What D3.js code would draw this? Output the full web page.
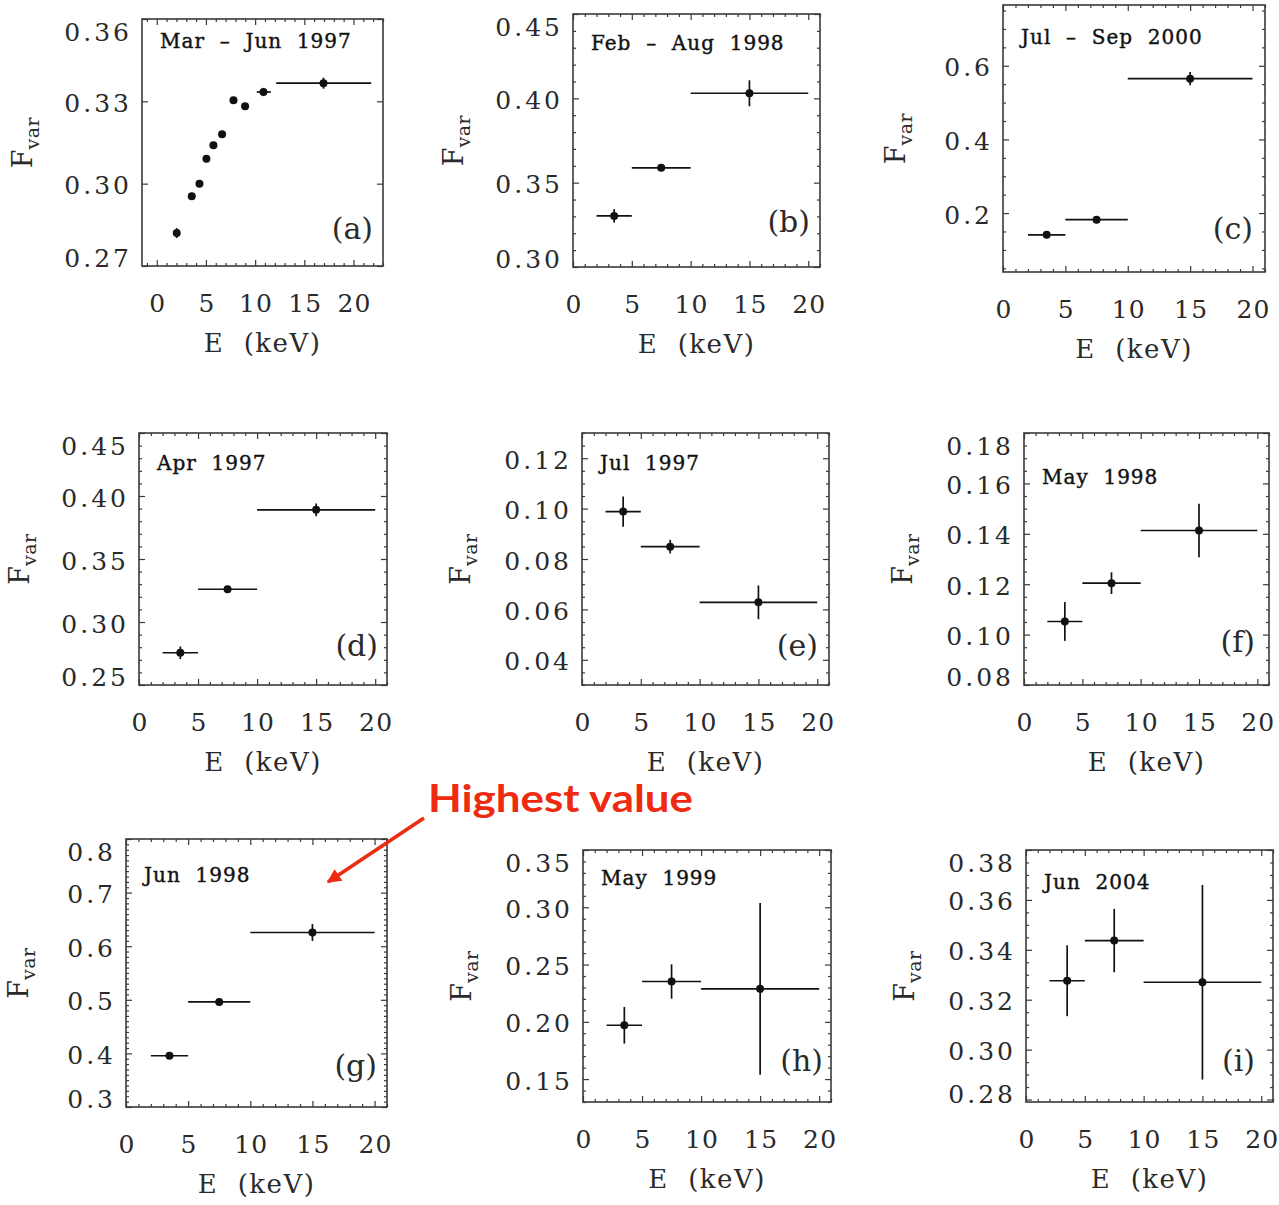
<!DOCTYPE html>
<html><head><meta charset="utf-8">
<script src="https://cdn.jsdelivr.net/npm/d3@7"></script>
<style>html,body{margin:0;padding:0;background:#fff;} svg{display:block;}</style>
</head><body>
<svg id="chart" width="1279" height="1205"></svg>
<script>
// ---------------- DATA ----------------
const panelLetters = ["(a)","(b)","(c)","(d)","(e)","(f)","(g)","(h)","(i)"];
const panelTitles = ["Mar  –  Jun  1997","Feb  –  Aug  1998","Jul  –  Sep  2000",
                     "Apr  1997","Jul  1997","May  1998",
                     "Jun  1998","May  1999","Jun  2004"];
const xTickValues = [0, 5, 10, 15, 20];

// panel (a): fine energy bins
const energyA   = [2.03, 3.56, 4.34, 5.05, 5.76, 6.64, 7.80, 8.98, 10.85, 16.95];
const energyLoA = [1.73, 3.26, 4.04, 4.75, 5.46, 6.34, 7.50, 8.68, 10.17, 12.14];
const energyHiA = [2.33, 3.86, 4.64, 5.35, 6.06, 6.94, 8.10, 9.28, 11.60, 21.80];
const fvarA     = [0.2820, 0.2954, 0.3000, 0.3091, 0.3140, 0.3180, 0.3304, 0.3282, 0.3334, 0.3366];
const errA      = [0.0018, 0.0012, 0.0012, 0.0012, 0.0012, 0.0012, 0.0012, 0.0012, 0.0015, 0.0020];

// panels (b)-(i): three broad bins
const binE  = [3.5, 7.5, 15];
const binLo = [2, 5, 10];
const binHi = [5, 10, 20];
const fvarB = [0.3303, 0.3588, 0.4030]; const errB = [0.0040, 0.0015, 0.0077];
const fvarC = [0.141, 0.182, 0.565];    const errC = [0.004, 0.005, 0.018];
const fvarD = [0.2756, 0.3260, 0.3890]; const errD = [0.005, 0.002, 0.005];
const fvarE = [0.0988, 0.0849, 0.0628]; const errE = [0.0060, 0.0027, 0.0067];
const fvarF = [0.1052, 0.1204, 0.1413]; const errF = [0.0077, 0.0043, 0.0106];
const fvarG = [0.3956, 0.4960, 0.6256]; const errG = [0.004, 0.004, 0.016];
const fvarH = [0.1970, 0.2352, 0.2288]; const errH = [0.016, 0.015, 0.075];
const fvarI = [0.3276, 0.3437, 0.3270]; const errI = [0.0142, 0.0127, 0.0390];

// y ranges and tick labels
const yDomA = [0.27, 0.36];  const yTicksA = [0.27, 0.30, 0.33, 0.36];
const yDomB = [0.30, 0.45];  const yTicksB = [0.30, 0.35, 0.40, 0.45];
const yDomC = [0.04, 0.765]; const yTicksC = [0.2, 0.4, 0.6];
const yDomD = [0.25, 0.45];  const yTicksD = [0.25, 0.30, 0.35, 0.40, 0.45];
const yDomE = [0.03, 0.13];  const yTicksE = [0.04, 0.06, 0.08, 0.10, 0.12];
const yDomF = [0.08, 0.18];  const yTicksF = [0.08, 0.10, 0.12, 0.14, 0.16, 0.18];
const yDomG = [0.3, 0.8];    const yTicksG = [0.3, 0.4, 0.5, 0.6, 0.7, 0.8];
const yDomH = [0.13, 0.35];  const yTicksH = [0.15, 0.20, 0.25, 0.30, 0.35];
const yDomI = [0.279, 0.38]; const yTicksI = [0.28, 0.30, 0.32, 0.34, 0.36, 0.38];
const yMinorSteps = [null, 0.01, 0.05, 0.01, 0.005, 0.005, 0.01, 0.01, 0.005];
const yDecimals = [2, 2, 1, 2, 2, 2, 1, 2, 2];

const annotationText = "Highest value";

// ---------------- LAYOUT ----------------
const frames = [
  {l:142, r:383,  t:19,  b:266,  xDom:[-1.5,23], tdy:29, ldx:10, ldy:27, yt:110},
  {l:573, r:820,  t:14,  b:267,  xDom:[0,21],    tdy:36, ldx:10, ldy:35, yt:110},
  {l:1003,r:1265, t:5,   b:272,  xDom:[0,21],    tdy:39, ldx:12, ldy:33, yt:98},
  {l:139, r:387,  t:433, b:685,  xDom:[0,21],    tdy:37, ldx:9,  ldy:29, yt:110},
  {l:582, r:829,  t:433, b:685,  xDom:[0,21],    tdy:37, ldx:11, ldy:29, yt:112},
  {l:1024,r:1269, t:433, b:685,  xDom:[0,21],    tdy:51, ldx:14, ldy:33, yt:112},
  {l:126, r:387,  t:839, b:1107, xDom:[0,21],    tdy:43, ldx:10, ldy:31, yt:98},
  {l:583, r:831,  t:850, b:1102, xDom:[0,21],    tdy:35, ldx:8,  ldy:31, yt:112},
  {l:1026,r:1273, t:850, b:1102, xDom:[0,21],    tdy:39, ldx:18, ldy:31, yt:112}
];

const panels = [
  {E:energyA, lo:energyLoA, hi:energyHiA, F:fvarA, err:errA, yDom:yDomA, yTicks:yTicksA},
  {E:binE, lo:binLo, hi:binHi, F:fvarB, err:errB, yDom:yDomB, yTicks:yTicksB},
  {E:binE, lo:binLo, hi:binHi, F:fvarC, err:errC, yDom:yDomC, yTicks:yTicksC},
  {E:binE, lo:binLo, hi:binHi, F:fvarD, err:errD, yDom:yDomD, yTicks:yTicksD},
  {E:binE, lo:binLo, hi:binHi, F:fvarE, err:errE, yDom:yDomE, yTicks:yTicksE},
  {E:binE, lo:binLo, hi:binHi, F:fvarF, err:errF, yDom:yDomF, yTicks:yTicksF},
  {E:binE, lo:binLo, hi:binHi, F:fvarG, err:errG, yDom:yDomG, yTicks:yTicksG},
  {E:binE, lo:binLo, hi:binHi, F:fvarH, err:errH, yDom:yDomH, yTicks:yTicksH},
  {E:binE, lo:binLo, hi:binHi, F:fvarI, err:errI, yDom:yDomI, yTicks:yTicksI}
];

// ---------------- DRAW ----------------
const svg = d3.select("#chart");
const SERIF = "'DejaVu Serif', 'Liberation Serif', serif";
const AX = "#3a3a3a";
const INK = "#111";

function clean(sel) {
  sel.select(".domain").remove();
  sel.selectAll(".tick line").attr("stroke", AX).attr("stroke-width", 1.2);
}
function stepValues(dom, step) {
  const n0 = Math.ceil(dom[0] / step - 1e-6), n1 = Math.floor(dom[1] / step + 1e-6);
  return d3.range(n0, n1 + 1).map(n => +(n * step).toFixed(6));
}

panels.forEach((p, i) => {
  const L = frames[i];
  const x = d3.scaleLinear().domain(L.xDom).range([L.l, L.r]);
  const y = d3.scaleLinear().domain(p.yDom).range([L.b, L.t]);
  const g = svg.append("g");

  // ticks (inward, all four sides)
  const xMajor = xTickValues.filter(v => v >= L.xDom[0] && v <= L.xDom[1]);
  const xMinor = stepValues(L.xDom, 1).filter(v => v % 5 !== 0);
  const yMajor = p.yTicks;
  const ms = yMinorSteps[i];
  const yMinor = ms ? stepValues(p.yDom, ms).filter(v => !yMajor.some(m => Math.abs(m - v) < 1e-6)) : [];

  [[d3.axisBottom, L.b], [d3.axisTop, L.t]].forEach(([ax, pos]) => {
    g.append("g").attr("transform", `translate(0,${pos})`)
      .call(ax(x).tickValues(xMinor).tickSize(-3).tickFormat("")).call(clean);
    g.append("g").attr("transform", `translate(0,${pos})`)
      .call(ax(x).tickValues(xMajor).tickSize(-6).tickFormat("")).call(clean);
  });
  [[d3.axisLeft, L.l], [d3.axisRight, L.r]].forEach(([ax, pos]) => {
    g.append("g").attr("transform", `translate(${pos},0)`)
      .call(ax(y).tickValues(yMinor).tickSize(-3).tickFormat("")).call(clean);
    g.append("g").attr("transform", `translate(${pos},0)`)
      .call(ax(y).tickValues(yMajor).tickSize(-6).tickFormat("")).call(clean);
  });

  // frame
  g.append("rect").attr("x", L.l).attr("y", L.t)
    .attr("width", L.r - L.l).attr("height", L.b - L.t)
    .attr("fill", "none").attr("stroke", AX).attr("stroke-width", 1.6);

  // x tick labels
  const xl = g.append("g").attr("transform", `translate(0,${L.b})`)
    .call(d3.axisBottom(x).tickValues(xMajor).tickSize(0).tickFormat(d3.format("d")));
  xl.select(".domain").remove();
  xl.selectAll("text").attr("y", 46).attr("dy", null).attr("dx", 0.5)
    .attr("font-family", SERIF).attr("font-size", 25).attr("letter-spacing", 1.2)
    .attr("fill", "#2a2a2a");

  // y tick labels
  const yl = g.append("g").attr("transform", `translate(${L.l},0)`)
    .call(d3.axisLeft(y).tickValues(yMajor).tickSize(0).tickFormat(d3.format(`.${yDecimals[i]}f`)));
  yl.select(".domain").remove();
  yl.selectAll(".tick").each(function(d) {
    const ty = y(d);
    const cy = Math.max(L.t + 12, Math.min(L.b - 9, ty + 1));
    d3.select(this).select("text")
      .attr("x", -10).attr("y", cy - ty).attr("dy", "0.36em")
      .attr("font-family", SERIF).attr("font-size", 25).attr("letter-spacing", 3)
      .attr("fill", "#2a2a2a");
  });

  // axis titles
  g.append("text").attr("x", (L.l + L.r) / 2).attr("y", L.b + 86)
    .attr("text-anchor", "middle").attr("font-family", SERIF).attr("font-size", 26)
    .attr("letter-spacing", 1.5).style("white-space", "pre").attr("fill", "#2a2a2a")
    .text("E  (keV)");
  const yt = g.append("text")
    .attr("transform", `translate(${L.l - L.yt},${(L.t + L.b) / 2}) rotate(-90)`)
    .attr("text-anchor", "middle").attr("font-family", SERIF).attr("fill", "#2a2a2a");
  yt.append("tspan").attr("font-size", 27).text("F");
  yt.append("tspan").attr("font-size", 19).attr("dy", 7).attr("letter-spacing", 0.5).text("var");

  // panel title and letter
  g.append("text").attr("x", L.l + 18).attr("y", L.t + L.tdy)
    .attr("font-family", SERIF).attr("font-size", 20).attr("letter-spacing", 1)
    .style("white-space", "pre").attr("fill", "#111")
    .attr("stroke", "#111").attr("stroke-width", 0.4)
    .text(panelTitles[i]);
  g.append("text").attr("x", L.r - L.ldx).attr("y", L.b - L.ldy)
    .attr("text-anchor", "end").attr("font-family", SERIF).attr("font-size", 30)
    .attr("fill", "#2a2a2a").text(panelLetters[i]);

  // data: error bars + points
  const pts = p.E.map((e, k) => ({e, lo: p.lo[k], hi: p.hi[k], f: p.F[k], er: p.err[k]}));
  const pg = g.append("g");
  pg.selectAll("line.h").data(pts).join("line")
    .attr("x1", d => x(d.lo)).attr("x2", d => x(d.hi))
    .attr("y1", d => y(d.f)).attr("y2", d => y(d.f))
    .attr("stroke", INK).attr("stroke-width", 1.7);
  pg.selectAll("line.v").data(pts).join("line")
    .attr("x1", d => x(d.e)).attr("x2", d => x(d.e))
    .attr("y1", d => y(d.f - d.er)).attr("y2", d => y(d.f + d.er))
    .attr("stroke", INK).attr("stroke-width", 1.7);
  pg.selectAll("circle").data(pts).join("circle")
    .attr("cx", d => x(d.e)).attr("cy", d => y(d.f)).attr("r", 4)
    .attr("fill", INK);
});

// ---------------- ANNOTATION ----------------
const RED = "#EE2B10";
const defs = svg.append("defs");
defs.append("marker").attr("id", "arrowhead")
  .attr("viewBox", "0 0 10 10").attr("refX", 9).attr("refY", 5)
  .attr("markerWidth", 17).attr("markerHeight", 14).attr("markerUnits", "userSpaceOnUse")
  .attr("orient", "auto")
  .append("path").attr("d", "M0,0 L10,5 L0,10 Z").attr("fill", RED);

svg.append("line").attr("x1", 424).attr("y1", 818).attr("x2", 328).attr("y2", 882)
  .attr("stroke", RED).attr("stroke-width", 3.5).attr("marker-end", "url(#arrowhead)");

svg.append("text").attr("x", 428).attr("y", 812)
  .attr("font-family", "Lato, 'Open Sans', sans-serif").attr("font-weight", "bold")
  .attr("font-size", 38).attr("fill", RED)
  .attr("textLength", 265).attr("lengthAdjust", "spacingAndGlyphs")
  .text(annotationText);
</script>
</body></html>
